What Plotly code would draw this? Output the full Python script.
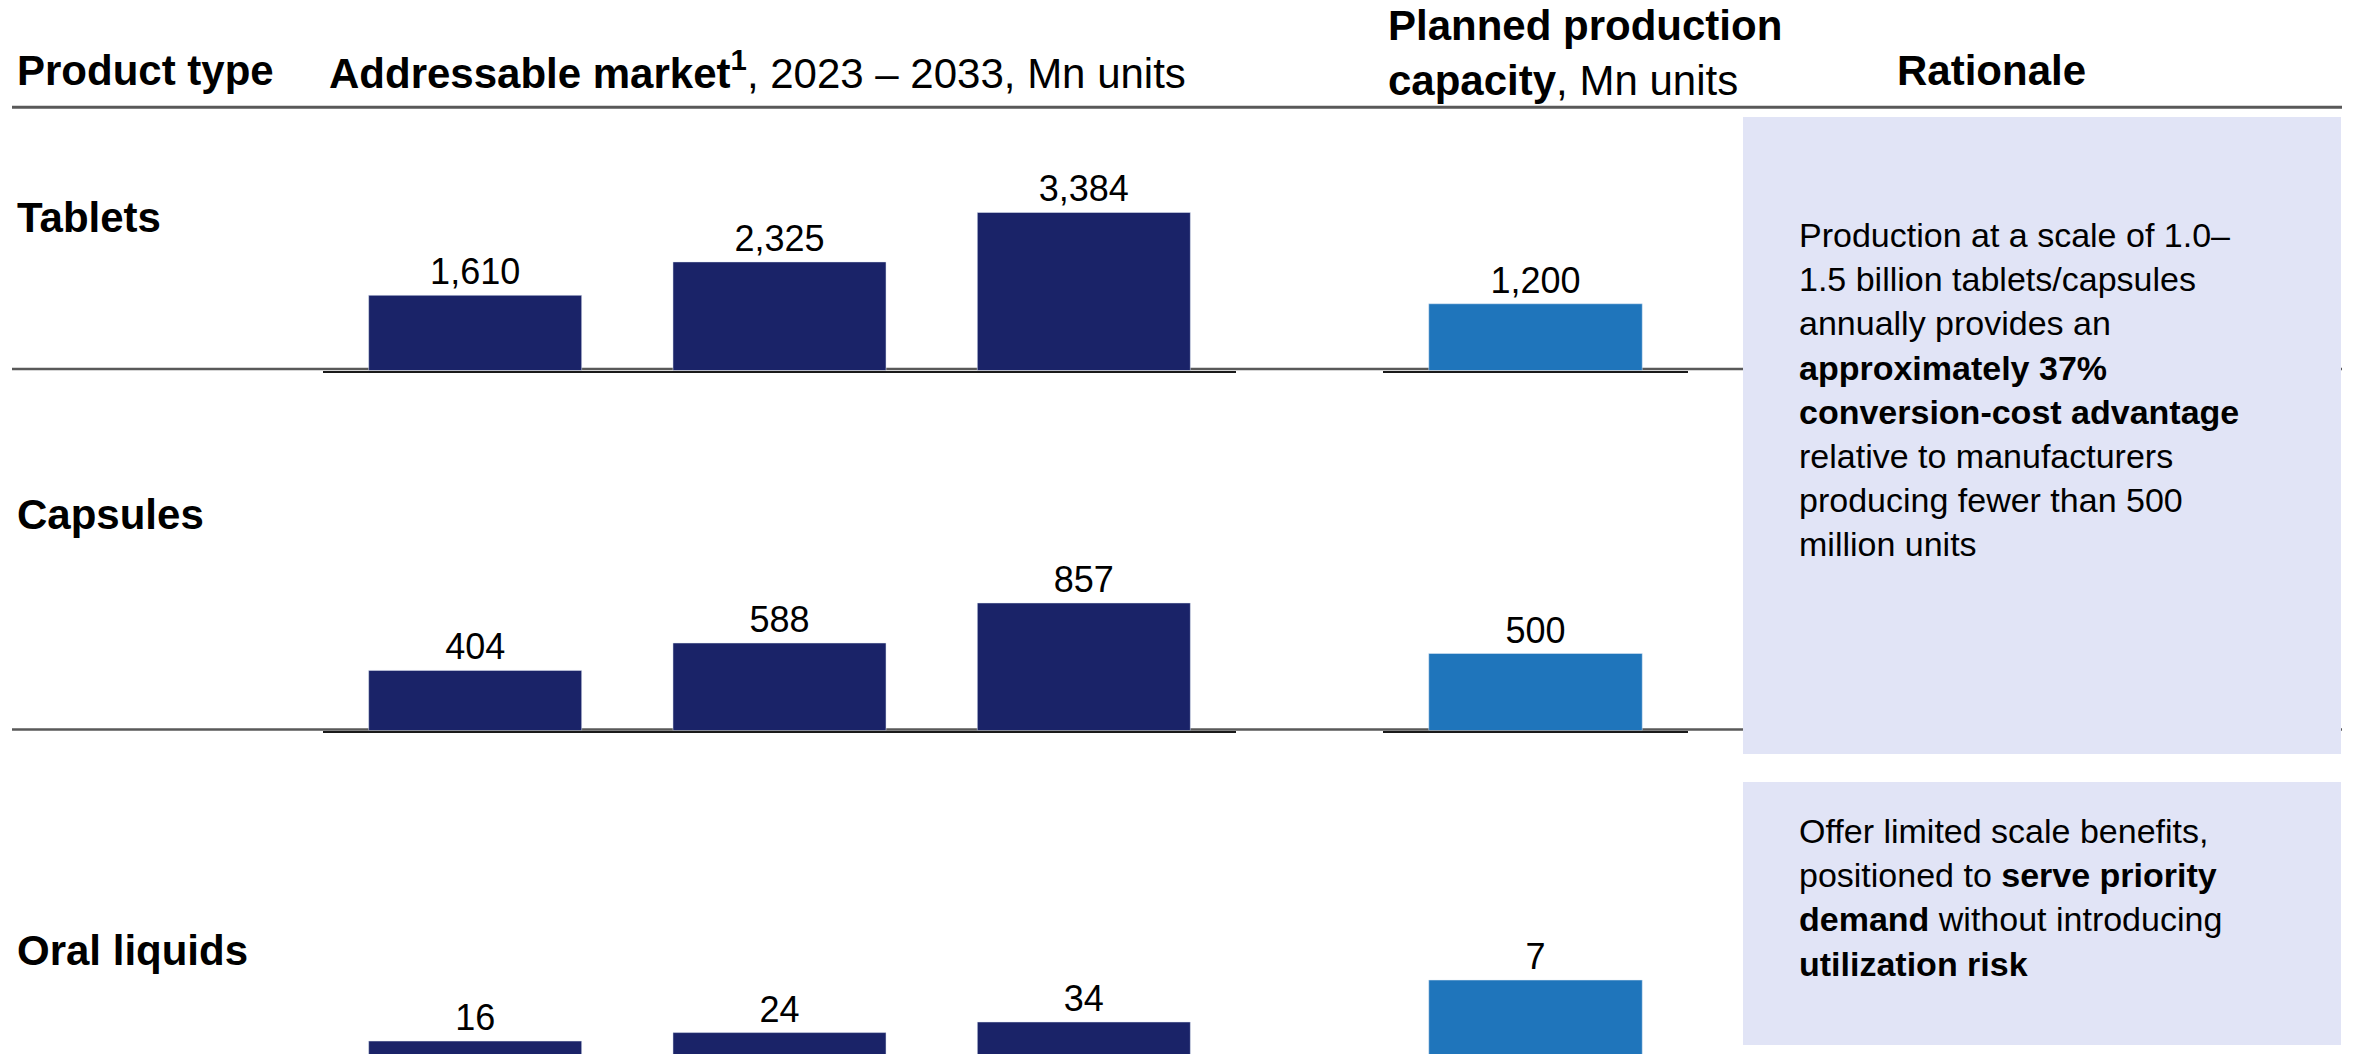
import plotly.graph_objects as go

# ---------------- data ----------------
product_types = ["Tablets", "Capsules", "Oral liquids"]
years = ["2023", "2028", "2033"]
market_tablets = [1610, 2325, 3384]
market_capsules = [404, 588, 857]
market_oral_liquids = [16, 24, 34]
capacity_category = ["Planned"]
capacity_tablets = [1200]
capacity_capsules = [500]
capacity_oral_liquids = [7]

header_product = "<b>Product type</b>"
header_market = "<b>Addressable market<sup>1</sup></b>, 2023 – 2033, Mn units"
header_capacity = "<b>Planned production</b><br><b>capacity</b>, Mn units"
header_rationale = "<b>Rationale</b>"

rationale_scale = ("Production at a scale of 1.0–<br>1.5 billion tablets/capsules<br>"
                   "annually provides an<br><b>approximately 37%</b><br>"
                   "<b>conversion-cost advantage</b><br>relative to manufacturers<br>"
                   "producing fewer than 500<br>million units")
rationale_liquids = ("Offer limited scale benefits,<br>positioned to <b>serve priority</b><br>"
                     "<b>demand</b> without introducing<br><b>utilization risk</b>")

market_rows = [market_tablets, market_capsules, market_oral_liquids]
capacity_rows = [capacity_tablets, capacity_capsules, capacity_oral_liquids]

# ---------------- layout / style ----------------
W, H = 2354, 1054
FONT = "Liberation Sans, Arial, Helvetica, sans-serif"
NAVY = "#1A2368"
BLUE = "#1F75BB"
BOX = "#E1E4F6"
RULE = "#595959"

def px(xp):
    return xp / W

def py(yp):
    return 1 - yp / H

# pixel geometry of each row: plot top, plot bottom, baseline, pixel-per-unit scales
row_geom = [
    dict(top=117, bottom=370.5, base=370.5, mkt_ppu=0.0467, cap_ppu=0.0556, label_y=218),
    dict(top=380, bottom=730.5, base=730.5, mkt_ppu=0.1488, cap_ppu=0.154, label_y=515),
    dict(top=740, bottom=1054, base=1058, mkt_ppu=1.059, cap_ppu=11.14, label_y=950),
]
mkt_x = (323, 1236)
cap_x = (1383, 1688)

fig = go.Figure()
layout_axes = {}
annotations = []

for i, (mvals, cvals, g) in enumerate(zip(market_rows, capacity_rows, row_geom)):
    n_m = 2 * i + 1
    n_c = 2 * i + 2
    for n, xs, ys, color, ppu, (x0, x1) in [
        (n_m, years, mvals, NAVY, g["mkt_ppu"], mkt_x),
        (n_c, capacity_category, cvals, BLUE, g["cap_ppu"], cap_x),
    ]:
        sfx = "" if n == 1 else str(n)
        fig.add_trace(go.Bar(
            x=xs, y=ys,
            xaxis="x" + sfx, yaxis="y" + sfx,
            marker=dict(color=color, line=dict(color="#E5ECF6", width=0.5)),
            texttemplate="%{y:,}", textposition="outside",
            textfont=dict(family=FONT, size=36, color="#000000"),
            cliponaxis=False, showlegend=False, hoverinfo="skip",
        ))
        layout_axes["xaxis" + sfx] = dict(
            domain=[px(x0), px(x1)], anchor="y" + sfx, type="category",
            showline=True, linecolor="#1A1A1A", linewidth=2,
            showticklabels=False, ticks="", showgrid=False, zeroline=False,
            fixedrange=True,
        )
        rmin = (g["base"] - g["bottom"]) / ppu
        rmax = (g["base"] - g["top"]) / ppu
        layout_axes["yaxis" + sfx] = dict(
            domain=[py(g["bottom"]), py(g["top"])], anchor="x" + sfx,
            range=[rmin, rmax], visible=False, fixedrange=True,
        )
    annotations.append(dict(
        text="<b>%s</b>" % product_types[i], xref="paper", yref="paper",
        x=px(15), y=py(g["label_y"]),
        xanchor="left", yanchor="middle", showarrow=False,
        font=dict(family=FONT, size=42, color="#000000"),
    ))

# headers
for text, xp, yp, xanchor in [
    (header_product, 15, 70, "left"),
    (header_market, 327, 70, "left"),
    (header_capacity, 1386, 53, "left"),
    (header_rationale, 1991, 70, "center"),
]:
    annotations.append(dict(
        text=text, xref="paper", yref="paper", x=px(xp), y=py(yp),
        xanchor=xanchor, yanchor="middle",
        showarrow=False, align="left",
        font=dict(family=FONT, size=42, color="#000000"),
    ))

# rationale texts
for text, yp in [(rationale_scale, 389), (rationale_liquids, 897)]:
    annotations.append(dict(
        text=text, xref="paper", yref="paper", x=px(1797), y=py(yp),
        xanchor="left", yanchor="middle",
        showarrow=False, align="left",
        font=dict(family=FONT, size=34, color="#000000"),
    ))

shapes = []
# rules
for yp, wdt in [(107.3, 3), (369, 2.5), (729.5, 2.5)]:
    shapes.append(dict(type="line", xref="paper", yref="paper",
                       x0=px(12), x1=px(2342), y0=py(yp), y1=py(yp),
                       line=dict(color=RULE, width=wdt), layer="below"))
# rationale boxes
for y0, y1 in [(117, 754), (782, 1045)]:
    shapes.append(dict(type="rect", xref="paper", yref="paper",
                       x0=px(1743), x1=px(2341), y0=py(y1), y1=py(y0),
                       fillcolor=BOX, line=dict(width=0), layer="below"))

fig.update_layout(
    width=W, height=H, autosize=False,
    margin=dict(l=0, r=0, t=0, b=0, pad=0),
    paper_bgcolor="white", plot_bgcolor="white",
    bargap=0.3,
    font=dict(family=FONT, color="#000000"),
    annotations=annotations, shapes=shapes,
    showlegend=False,
    **layout_axes,
)

fig.write_html("out.html")
